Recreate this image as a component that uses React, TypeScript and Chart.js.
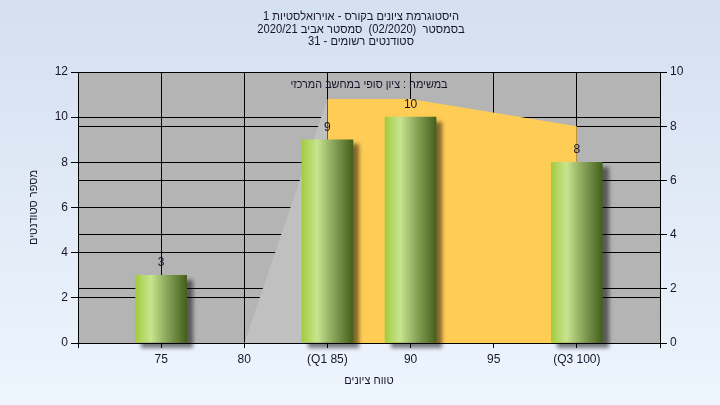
import React, { useEffect, useRef } from 'react';
import { Chart, registerables } from 'chart.js';

Chart.register(...registerables);

// ---- data ----
const titleLines = [
  'היסטוגרמת ציונים בקורס - אוירואלסטיות 1',
  'בסמסטר  (02/2020)  סמסטר אביב 2020/21',
  'סטודנטים רשומים - 31',
];
const legendText = 'במשימה : ציון סופי במחשב המרכזי';
const xAxisTitle = 'טווח ציונים';
const yAxisTitle = 'מספר סטודנטים';

const gradeValues = [75, 85, 90, 100];
const studentCounts = [3, 9, 10, 8];

const rampX = [80, 85];
const rampY = [0, 9];
const iqrX = [85, 90, 100];
const iqrY = [9, 9, 8];

const xTickValues = [75, 80, 85, 90, 95, 100];
const xTickLabels = ['75', '80', '(Q1 85)', '90', '95', '(Q3 100)'];

const FONT = "'Liberation Sans', Arial, sans-serif";
const TEXT = '#16162c';

function drawRtl(ctx: any, text: string, x: number, y: number, sx: number) {
  ctx.save();
  ctx.translate(x, y);
  ctx.scale(sx, 1);
  ctx.direction = 'rtl';
  ctx.textAlign = 'center';
  ctx.textBaseline = 'middle';
  ctx.fillText(text, 0, 0);
  ctx.restore();
}

const bgPlugin = {
  id: 'bgPlugin',
  beforeDraw(chart: any) {
    const { ctx, chartArea, width, height } = chart;
    ctx.save();
    const g = ctx.createLinearGradient(0, 0, 0, height);
    g.addColorStop(0, '#d4dff0');
    g.addColorStop(1, '#eef5fd');
    ctx.fillStyle = g;
    ctx.fillRect(0, 0, width, height);
    ctx.fillStyle = '#b4b4b4';
    ctx.fillRect(chartArea.left, chartArea.top, chartArea.right - chartArea.left, chartArea.bottom - chartArea.top);
    ctx.restore();
  },
  beforeDatasetDraw(chart: any, args: any) {
    if (args.index === 0) {
      const ctx = chart.ctx;
      ctx.save();
      ctx.shadowColor = 'rgba(0,0,0,0.5)';
      ctx.shadowOffsetX = 6;
      ctx.shadowOffsetY = 5;
      ctx.shadowBlur = 4;
    }
  },
  afterDatasetDraw(chart: any, args: any) {
    if (args.index === 0) chart.ctx.restore();
  },
  afterDatasetsDraw(chart: any) {
    const { ctx, chartArea } = chart;
    ctx.save();
    ctx.fillStyle = TEXT;
    ctx.font = `12px ${FONT}`;
    ctx.textAlign = 'center';
    ctx.textBaseline = 'middle';
    const meta = chart.getDatasetMeta(0);
    meta.data.forEach((el: any, i: number) => {
      ctx.fillText(String(studentCounts[i]), el.x, el.y - 12.5);
    });
    drawRtl(ctx, legendText, (chartArea.left + chartArea.right) / 2, 85, 0.9);
    ctx.restore();
  },
  afterDraw(chart: any) {
    const ctx = chart.ctx;
    ctx.save();
    ctx.fillStyle = TEXT;
    ctx.font = `12px ${FONT}`;
    const ys = [17, 29.5, 42];
    titleLines.forEach((t, i) => drawRtl(ctx, t, 361, ys[i], 0.93));
    ctx.restore();
  },
};

export default function App() {
  const ref = useRef<HTMLCanvasElement>(null);
  useEffect(() => {
    if (!ref.current) return;
    const chart = new Chart(ref.current, {
      type: 'bar',
      data: {
        datasets: [
          {
            type: 'bar',
            order: 0,
            label: 'students',
            data: gradeValues.map((g, i) => ({ x: g, y: studentCounts[i] })),
            barThickness: 51,
            clip: false as any,
            borderWidth: 0,
            yAxisID: 'y',
            backgroundColor: (c: any) => {
              const chart = c.chart;
              const xs = chart.scales && chart.scales.x;
              if (!xs || c.type !== 'data' || !c.raw) return '#8fb050';
              const cx = xs.getPixelForValue(c.raw.x);
              if (!Number.isFinite(cx)) return '#8fb050';
              const g = chart.ctx.createLinearGradient(cx - 25.5, 0, cx + 25.5, 0);
              g.addColorStop(0, '#a0cc3a');
              g.addColorStop(0.12, '#b2d662');
              g.addColorStop(0.3, '#c8e48e');
              g.addColorStop(0.6, '#8ba85c');
              g.addColorStop(1, '#44601c');
              return g;
            },
          } as any,
          {
            type: 'line',
            order: 2,
            label: 'ramp',
            data: rampX.map((x, i) => ({ x, y: rampY[i] })),
            yAxisID: 'y1',
            fill: 'origin',
            backgroundColor: '#c0c0c0',
            borderWidth: 0,
            pointRadius: 0,
            tension: 0,
          } as any,
          {
            type: 'line',
            order: 1,
            label: legendText,
            data: iqrX.map((x, i) => ({ x, y: iqrY[i] })),
            yAxisID: 'y1',
            fill: 'origin',
            backgroundColor: '#ffcc55',
            borderWidth: 0,
            pointRadius: 0,
            tension: 0,
          } as any,
        ],
      },
      options: {
        animation: false,
        responsive: false,
        devicePixelRatio: 1,
        layout: { padding: { top: 72, left: 0, right: 0, bottom: 0 } },
        plugins: {
          legend: { display: false },
          title: { display: false },
          tooltip: { enabled: false },
        },
        scales: {
          x: {
            type: 'linear',
            min: 70,
            max: 105,
            offset: false,
            ticks: {
              stepSize: 5,
              autoSkip: false,
              maxRotation: 0,
              color: TEXT,
              font: { family: FONT, size: 12 },
              padding: 4,
              callback: (v: any) => {
                const i = xTickValues.indexOf(Number(v));
                return i >= 0 ? xTickLabels[i] : '';
              },
            },
            grid: { color: '#000', lineWidth: 1, offset: false, drawTicks: true, tickLength: 5 },
            border: { color: '#000' },
            title: {
              display: true,
              text: xAxisTitle,
              color: TEXT,
              font: { family: FONT, size: 11 },
              padding: { top: 0, bottom: 17.4 },
            },
            afterFit: (s: any) => { s.height = 62; },
          },
          y: {
            position: 'left',
            min: 0,
            max: 12,
            ticks: { stepSize: 2, color: TEXT, font: { family: FONT, size: 12 }, padding: 3 },
            grid: { color: '#000', lineWidth: 1, drawTicks: true, tickLength: 7 },
            border: { color: '#000' },
            title: {
              display: true,
              text: yAxisTitle,
              color: TEXT,
              font: { family: FONT, size: 11 },
              padding: { top: 27.4, bottom: 0 },
            },
            afterFit: (s: any) => { s.width = 78; },
          },
          y1: {
            position: 'right',
            min: 0,
            max: 10,
            ticks: { stepSize: 2, color: TEXT, font: { family: FONT, size: 12 }, padding: 3 },
            grid: { color: '#000', lineWidth: 1, drawTicks: true, tickLength: 7, drawOnChartArea: true },
            border: { color: '#000' },
            afterFit: (s: any) => { s.width = 60; },
          },
        },
      } as any,
      plugins: [bgPlugin],
    });
    return () => chart.destroy();
  }, []);
  return (
    <div style={{ position: 'fixed', left: 0, top: 0, width: 720, height: 405 }}>
      <canvas ref={ref} width={720} height={405} style={{ display: 'block', width: 720, height: 405 }} />
    </div>
  );
}
